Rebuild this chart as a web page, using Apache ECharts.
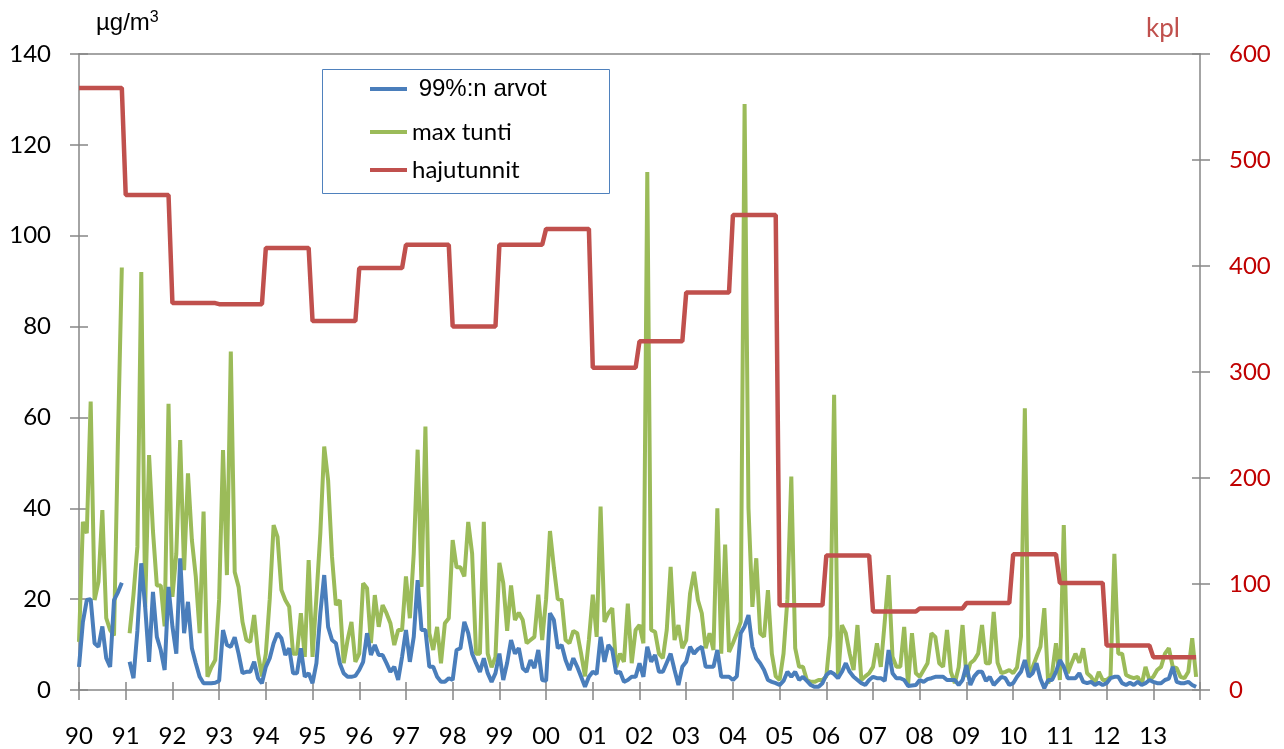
<!DOCTYPE html>
<html>
<head>
<meta charset="utf-8">
<script src="https://cdn.jsdelivr.net/npm/echarts@6/dist/echarts.min.js"></script>
<style>
  html, body { margin: 0; padding: 0; background: #fff; }
  #chart { width: 1284px; height: 749px; }
</style>
</head>
<body>
<div id="chart"></div>
<script>
// Year tick labels (two-digit years, 1990–2013)
const yearLabels = ['90','91','92','93','94','95','96','97','98','99','00','01',
                    '02','03','04','05','06','07','08','09','10','11','12','13'];
const firstYear = 1990;

// 99 % values, µg/m3, one row per year (Jan..Dec)
const p99 = [
  5.1, 15, 19.8, 20, 10.3, 9.5, 14, 7, 5.1, 19.8, 21.5, 23.6,
  null, 6.2, 2.6, 13, 27.9, 18.3, 6.2, 21.6, 11.7, 8.8, 4.4, 22.7,
  14, 8, 29, 12.5, 19.4, 9.2, 5.9, 2.9, 1.5, 1.5, 1.5, 1.6,
  2, 13.2, 9.9, 9.5, 11.6, 8, 3.7, 4, 4, 6.2, 2.6, 1.5,
  5.1, 7, 10.3, 12.5, 11.4, 7.7, 9.2, 3.7, 3.7, 9.2, 2.9, 3.7,
  1.5, 5.9, 16.9, 25.3, 13.9, 11, 10.3, 5.9, 3.7, 2.9, 2.9, 3.1,
  4.4, 6.2, 12.5, 7.7, 9.9, 7.7, 7.7, 5.9, 4, 5.1, 2.2, 7.3,
  13.2, 6.2, 11.7, 24.2, 13.2, 13.2, 5.1, 5.1, 2.9, 1.8, 1.8, 2.6,
  2.2, 8.8, 9.2, 15, 12.5, 8, 5.9, 4, 7, 3.7, 1.8, 3.7,
  8, 2.2, 6, 11, 8, 9.2, 4.8, 4, 6.6, 4.8, 8.8, 2.2,
  2, 16.9, 15.4, 9.2, 9.9, 6.6, 4.4, 7, 5.1, 2.9, 0.7, 2.9,
  4, 3.5, 11.7, 6.2, 9.9, 8.8, 3.7, 4, 1.8, 2.2, 2.9, 2.9,
  5.9, 2.9, 9.5, 6.2, 7.7, 4, 4, 6, 8, 4.4, 1.1, 5.1,
  6.2, 9.5, 8, 9, 9.5, 5.1, 5.1, 5.1, 8.8, 2.9, 2.9, 2.9,
  2.2, 3, 12.5, 14, 16.5, 9.5, 7, 5.9, 4.4, 2.2, 1.8, 1.5,
  1.1, 2, 4, 2.9, 4, 2.2, 2.9, 2, 1.1, 0.7, 0.7, 1.5,
  3.3, 4, 3.5, 2.6, 4, 5.9, 4, 2.9, 2.2, 1.5, 1.1, 2.2,
  2.9, 2.6, 2.6, 2, 8.8, 3.7, 2.6, 2.6, 2.2, 0.9, 1, 1.1,
  2.2, 1.8, 2.4, 2.6, 2.9, 2.9, 2.9, 2.2, 2.2, 2.2, 1.1, 2.2,
  5.5, 1.1, 3, 4, 4, 2, 2.9, 1.1, 2, 2.9, 2.6, 1.1,
  1.5, 2.9, 4, 6.6, 2.9, 3.7, 5.9, 2.5, 0.4, 2.2, 2.2, 4,
  6.6, 5.1, 2.6, 2.6, 2.6, 3.7, 1.8, 1.5, 1.8, 1.1, 1.6, 1.1,
  1.5, 2.6, 2.9, 2.9, 1.5, 1.1, 1.6, 1.1, 1.8, 1.1, 1.5, 2.2,
  1.8, 1.5, 1.5, 2.2, 2.5, 5.1, 1.8, 1.5, 1.5, 1.8, 1.1, 0.7
];

// Highest hourly value per month, µg/m3
const maxHour = [
  10.6, 37, 34.5, 63.5, 19.8, 23.8, 39.6, 15.8, 13.2, 12, 55, 93,
  null, 12.5, 21, 31.5, 92, 18.3, 51.7, 35, 23, 23, 14, 63,
  20.5, 30, 55, 26.4, 47.7, 33, 25, 12.5, 39.3, 2.9, 5, 6.6,
  20, 52.8, 25.3, 74.5, 26, 22.7, 15, 11, 10.6, 16.5, 8, 3,
  8, 20, 36.3, 33.7, 22, 19.8, 18.3, 8, 8, 16.9, 7.3, 28.6,
  7.3, 20.5, 34.5, 53.6, 46.2, 29.3, 18.7, 19.8, 5.9, 11, 15, 6.2,
  8, 23.5, 22.4, 10.3, 20.9, 13.9, 18.7, 16.9, 14.7, 9.9, 13.2, 13.2,
  25, 15.8, 30, 52.9, 22.7, 58, 12.5, 8.8, 13.9, 5.9, 14.7, 15.8,
  33, 27, 27, 25, 37, 30, 8, 8, 37, 8, 5, 7.3,
  28, 23.5, 13, 23, 15.4, 17, 15.4, 10.3, 11, 11.7, 21, 11,
  20, 35, 27, 20, 19.8, 11, 10.3, 13, 12.5, 8, 3, 11,
  21, 11.7, 40.4, 15, 16.9, 18, 5, 8, 6.2, 19, 5.9, 13.2,
  14.3, 10.3, 114, 13.2, 12.8, 8, 7, 13.2, 27.1, 11, 14.3, 9.2,
  11, 21.3, 26, 19.8, 16.9, 9.2, 12.5, 8.8, 40, 8, 32, 8.4,
  10.3, 12.5, 15, 129, 40, 18.3, 29, 12.5, 11.7, 22, 8, 3,
  2.2, 8, 20, 47, 9.2, 5.1, 5.1, 2.2, 1.8, 1.8, 2.2, 2.2,
  3, 12, 65, 2.5, 14.3, 12.5, 8, 4.4, 14.3, 2.2, 3, 3.7,
  5.1, 10.3, 5.1, 15, 25.3, 7.3, 5.1, 5.1, 13.9, 1.1, 12.5, 3.7,
  2.9, 4.4, 5.9, 12.5, 11.7, 5.9, 5.1, 13.2, 4, 1.5, 5, 14.3,
  2.9, 5.9, 6.6, 8, 14.3, 5.9, 5.9, 17.2, 6, 3.7, 4, 4.4,
  3.7, 5, 11.7, 62, 3.7, 5, 7.3, 9.5, 18, 1.5, 3.7, 10.3,
  2.2, 36.3, 3.7, 5.9, 8, 6, 9.2, 3.7, 2.9, 1.5, 4, 2.2,
  2.2, 2.9, 30, 8, 8, 3.3, 2.9, 2.6, 2.9, 1.1, 5.1, 2.2,
  2.9, 4.4, 5.1, 8, 9.2, 5.1, 4.8, 2.9, 2.6, 4, 11.4, 2.9
];

// Odour hours per year (kpl), right axis
const odourHours = [568, 467, 365, 364, 417, 348, 398, 420, 343, 420, 435, 304,
                    329, 375, 448, 80, 127, 74, 77, 82, 128, 101, 42, 31];

// Monthly positions on the time axis (year + month/12)
const monthPos = i => firstYear + i / 12;
const toPairs = arr => arr.map((v, i) => [monthPos(i), v]);
// yearly totals are held for each month of their year
const odourMonthly = [];
odourHours.forEach(v => { for (let m = 0; m < 12; m++) odourMonthly.push(v); });

const axisGray = '#868686';
const tickFont = 'Lato, "Liberation Sans", sans-serif';
const blue = '#4A7EBB', green = '#9BBB59', red = '#C0504D';

const chart = echarts.init(document.getElementById('chart'), null, { renderer: 'canvas' });

const legendBase = {
  itemWidth: 37, itemHeight: 4, itemGap: 0, padding: 0, icon: 'rect',
  textStyle: { fontSize: 24, color: '#000', fontFamily: tickFont }
};

const option = {
  animation: false,
  backgroundColor: '#fff',
  grid: { left: 79, right: 84, top: 54, bottom: 59, containLabel: false },
  xAxis: [
    {
      type: 'value', min: 1990, max: 2014, interval: 1, position: 'bottom',
      axisLine: { show: true, onZero: false, lineStyle: { color: axisGray, width: 1.5 } },
      axisTick: { show: true, inside: false, length: 10, lineStyle: { color: axisGray, width: 1.5 } },
      axisLabel: {
        margin: 34, fontSize: 24, color: '#000', fontFamily: tickFont,
        formatter: v => yearLabels[Math.round(v) - firstYear] || ''
      },
      splitLine: { show: false }
    },
    {
      type: 'value', min: 1990, max: 2014, interval: 1, position: 'bottom',
      axisLine: { show: false },
      axisTick: { show: true, inside: true, length: 8, lineStyle: { color: axisGray, width: 1.5 } },
      axisLabel: { show: false }, splitLine: { show: false }
    },
    {
      type: 'value', min: 1990, max: 2014, position: 'top',
      axisLine: { show: true, onZero: false, lineStyle: { color: axisGray, width: 1.5 } },
      axisTick: { show: false }, axisLabel: { show: false }, splitLine: { show: false }
    }
  ],
  yAxis: [
    {
      type: 'value', min: 0, max: 140, interval: 20, position: 'left',
      axisLine: { show: true, onZero: false, lineStyle: { color: axisGray, width: 1.5 } },
      axisTick: { show: true, inside: false, length: 9, lineStyle: { color: axisGray, width: 1.5 } },
      axisLabel: { margin: 28, fontSize: 24, color: '#000', fontFamily: tickFont },
      splitLine: { show: false }
    },
    {
      type: 'value', min: 0, max: 600, interval: 100, position: 'right',
      axisLine: { show: true, onZero: false, lineStyle: { color: axisGray, width: 1.5 } },
      axisTick: { show: true, inside: false, length: 10, lineStyle: { color: axisGray, width: 1.5 } },
      axisLabel: { margin: 29, fontSize: 24, color: '#C00000', fontFamily: tickFont },
      splitLine: { show: false }
    },
    {
      type: 'value', min: 0, max: 140, interval: 20, position: 'left',
      axisLine: { show: false },
      axisTick: { show: true, inside: true, length: 9, lineStyle: { color: axisGray, width: 1.5 } },
      axisLabel: { show: false }, splitLine: { show: false }
    },
    {
      type: 'value', min: 0, max: 600, interval: 100, position: 'right',
      axisLine: { show: false },
      axisTick: { show: true, inside: true, length: 8, lineStyle: { color: axisGray, width: 1.5 } },
      axisLabel: { show: false }, splitLine: { show: false }
    }
  ],
  legend: [
    Object.assign({}, legendBase, {
      data: ['99%:n arvot'], left: 370, top: 77,
      formatter: n => ' ' + n,
      textStyle: { fontSize: 24, color: '#000', fontFamily: '"Liberation Sans", Arial, sans-serif' }
    }),
    Object.assign({}, legendBase, { data: ['max tunti'], left: 370, top: 120 }),
    Object.assign({}, legendBase, { data: ['hajutunnit'], left: 370, top: 158 })
  ],
  graphic: [
    {
      type: 'rect', left: 320, top: 67, z: 0,
      shape: { width: 287, height: 124 },
      style: { fill: 'none', stroke: '#4F81BD', lineWidth: 1 }
    },
    {
      type: 'text', left: 96, top: 10,
      style: {
        text: 'µg/m{sup|3}', fontSize: 24, fill: '#000',
        fontFamily: '"Liberation Sans", Arial, sans-serif',
        rich: { sup: { fontSize: 16, verticalAlign: 'top', padding: [0, 0, 10, 0], fontFamily: '"Liberation Sans", Arial, sans-serif' } }
      }
    },
    {
      type: 'text', left: 1146, top: 16,
      style: { text: 'kpl', fontSize: 26, fill: red, fontFamily: tickFont }
    }
  ],
  series: [
    {
      name: 'max tunti', type: 'line', xAxisIndex: 0, yAxisIndex: 0,
      data: toPairs(maxHour), showSymbol: false, symbol: 'none', connectNulls: false,
      lineStyle: { color: green, width: 4 }, itemStyle: { color: green }, z: 2
    },
    {
      name: '99%:n arvot', type: 'line', xAxisIndex: 0, yAxisIndex: 0,
      data: toPairs(p99), showSymbol: false, symbol: 'none', connectNulls: false,
      lineStyle: { color: blue, width: 4 }, itemStyle: { color: blue }, z: 3
    },
    {
      name: 'hajutunnit', type: 'line', xAxisIndex: 0, yAxisIndex: 1,
      data: toPairs(odourMonthly), showSymbol: false, symbol: 'none',
      lineStyle: { color: red, width: 4.5 }, itemStyle: { color: red }, z: 4
    }
  ]
};

chart.setOption(option);
</script>
</body>
</html>
